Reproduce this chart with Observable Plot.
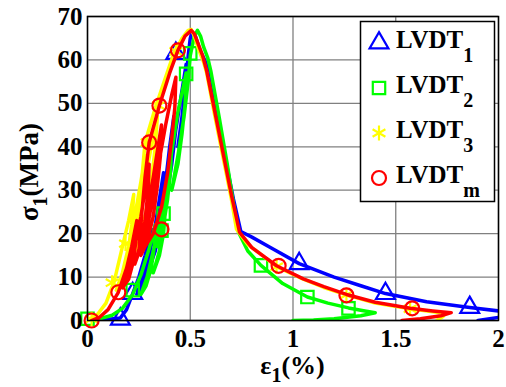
<!DOCTYPE html>
<html><head><meta charset="utf-8">
<script src="https://cdn.jsdelivr.net/npm/d3@7"></script>
<script src="https://cdn.jsdelivr.net/npm/@observablehq/plot@0.6"></script>
<style>body{margin:0;background:#fff}#chart{width:506px;height:387px}</style>
</head><body><div id="chart"></div>
<script>
const seriesBase = "LVDT";
const seriesSubs = ["1", "2", "3", "m"];
const seriesColors = ["#0000ff", "#00ff00", "#ffff00", "#ff0000"];
const seriesSymbols = ["triangle", "square", "asterisk", "circle"];
const xTicks = [0, 0.5, 1, 1.5, 2];
const xTickLabels = ["0", "0.5", "1", "1.5", "2"];
const yTicks = [0, 10, 20, 30, 40, 50, 60, 70];
const yTickLabels = ["0", "10", "20", "30", "40", "50", "60", "70"];
const xLabelMain = "ε", xLabelSub = "1", xLabelUnit = "(%)";
const yLabelMain = "σ", yLabelSub = "1", yLabelUnit = "(MPa)";

// strain (%), stress (MPa)
const curveLVDT1 = [[0,0],[0.08,0.2],[0.16,0.6],[0.19,2.5],[0.22,6.2],[0.25,10],[0.28,15],[0.31,21],
  [0.305,16],[0.29,11],[0.27,8],[0.24,6],
  [0.27,10],[0.3,15],[0.33,22],[0.35,28],[0.37,34],
  [0.365,28],[0.35,22],[0.33,16],[0.3,12],
  [0.33,17],[0.36,25],[0.38,32],[0.4,40],[0.42,47],
  [0.415,40],[0.4,33],[0.38,26],[0.35,20],
  [0.38,27],[0.41,36],[0.43,44],[0.46,53],[0.48,59],
  [0.475,53],[0.46,46],[0.44,40],
  [0.46,47],[0.48,55],[0.49,61],[0.5,65],[0.51,66.5],[0.525,65.5],[0.545,62.5],[0.57,60],[0.59,57.5],
  [0.63,47],[0.67,37.5],[0.71,28],[0.746,20.5],[0.8,19.2],[0.89,16.8],[1.03,13.1],[1.2,10],[1.33,8],
  [1.45,6.2],[1.65,4.3],[1.86,3],[2.0,2.2],[2.1,1.8],[2.08,1.2],[2.0,0.7],[1.9,0]];
const curveLVDT2 = [[0,0],[0.06,0.4],[0.12,1.2],[0.17,2.8],[0.22,6],[0.26,10.5],[0.3,16.5],[0.33,22],
  [0.325,17],[0.31,12],[0.285,8],[0.26,6],
  [0.29,10],[0.32,16],[0.35,22],[0.37,27],[0.385,32],
  [0.38,26],[0.37,20],[0.35,15],[0.32,11],
  [0.35,16],[0.37,22],[0.39,29],[0.4,35],[0.41,42],
  [0.405,35],[0.39,28],[0.37,22],[0.34,17],
  [0.37,23],[0.39,31],[0.41,39],[0.44,48],[0.48,57],
  [0.475,50],[0.46,43],[0.44,36],[0.41,30],
  [0.44,38],[0.47,47],[0.49,55],[0.5,61],[0.52,65.5],[0.535,66.8],[0.55,65.5],[0.565,63],[0.585,60.5],
  [0.6,57.5],[0.64,47],[0.68,36],[0.71,27],[0.735,20.3],[0.78,16],[0.844,12.7],[0.95,8.5],[1.07,5.4],
  [1.17,4],[1.27,2.9],[1.35,2.2],[1.4,1.8],[1.33,1.1],[1.2,0.4],[1.1,0.1],[1.0,0]];
const curveLVDT3 = [[0,0],[0.05,1.5],[0.09,4],[0.13,9],[0.17,17],[0.2,23],[0.225,29],
  [0.215,22],[0.195,15],[0.17,10],[0.14,7],
  [0.17,11],[0.2,17],[0.23,24],[0.26,32],[0.28,38],
  [0.27,31],[0.25,24],[0.22,17],[0.19,12],
  [0.22,17],[0.25,24],[0.28,32],[0.31,40],[0.34,47],
  [0.33,40],[0.31,32],[0.28,24],[0.24,17],[0.21,14],
  [0.22,17],[0.245,25],[0.265,33],[0.28,41],[0.33,49],[0.38,56],[0.42,61.5],[0.46,65],[0.49,66.8],
  [0.505,67],[0.52,65.5],[0.54,62.5],[0.565,59.5],[0.58,57],[0.62,47],[0.66,37.5],[0.7,28],[0.725,21],
  [0.78,17.5],[0.85,15],[0.92,12.4],[1.05,9.5],[1.15,7.6],[1.26,5.9],[1.4,4],[1.57,2.7],[1.68,2.0],
  [1.74,1.6],[1.73,0.9],[1.7,0]];
const curveLVDTm = [[0.02,0],[0.06,0.8],[0.1,2.5],[0.15,6.5],[0.19,12],[0.215,17],[0.24,23],
  [0.235,18],[0.22,13],[0.2,9.5],[0.17,7.5],
  [0.2,11],[0.23,17],[0.26,24],[0.28,30],[0.3,36],
  [0.295,30],[0.28,23],[0.26,17],[0.23,13],
  [0.26,18],[0.29,25],[0.32,33],[0.34,39],[0.36,45],
  [0.355,38],[0.34,31],[0.32,24],[0.29,18],[0.26,15],
  [0.29,21],[0.32,29],[0.35,37],[0.38,45],[0.41,52],[0.43,56],
  [0.425,49],[0.41,42],[0.39,34],[0.36,26],[0.32,20],[0.28,17],[0.25,16],
  [0.265,25],[0.28,33],[0.3,41],[0.35,49.5],[0.4,57],[0.44,62.2],[0.475,65.5],[0.505,66.8],[0.52,66],
  [0.54,63.5],[0.56,61],[0.58,57.5],[0.62,48],[0.66,38.5],[0.7,29],[0.74,20.3],[0.8,16.8],[0.92,12.6],
  [1.05,9.6],[1.15,7.8],[1.26,6],[1.4,4.2],[1.57,2.8],[1.68,2.2],[1.77,1.8],[1.72,1.1],[1.62,0.4],[1.53,0]];

const markersLVDT1 = [[0.16,0.3],[0.22,6.2],[0.43,61.5],[1.03,13.1],[1.45,6.2],[1.86,3.0]];
const markersLVDT2 = [[0,0.4],[0.22,7],[0.36,20.7],[0.37,24.6],[0.48,56.8],[0.5,61.5],[0.844,12.7],[1.07,5.4],[1.27,2.8]];
const markersLVDT3 = [[0.02,0.3],[0.12,8.7],[0.185,17.7],[0.29,41],[0.345,49.5],[0.43,62],[0.92,12.4],[1.26,5.9],[1.57,2.7]];
const markersLVDTm = [[0.02,0],[0.15,6.5],[0.36,21],[0.3,41],[0.35,49.5],[0.44,62.2],[0.93,12.6],[1.26,5.8],[1.58,2.8]];

const curves = [curveLVDT1, curveLVDT2, curveLVDT3, curveLVDTm];
const markers = [markersLVDT1, markersLVDT2, markersLVDT3, markersLVDTm];

const FONT = "Liberation Serif, DejaVu Serif, serif";
const W = 506, H = 387, ML = 87, MR = 8, MT = 16, MB = 67;

const marks = [
  Plot.gridX(xTicks, {stroke: "#808080", strokeOpacity: 1, strokeWidth: 1.3}),
  Plot.gridY(yTicks, {stroke: "#808080", strokeOpacity: 1, strokeWidth: 1.3}),
];
curves.forEach((c, i) => {
  marks.push(Plot.line(c, {x: d => d[0], y: d => d[1], stroke: seriesColors[i], strokeWidth: 3.5, clip: true}));
  marks.push(Plot.dot(markers[i], {x: d => d[0], y: d => d[1], symbol: seriesSymbols[i], r: 7,
    stroke: seriesColors[i], strokeWidth: 2.2, fill: "none"}));
});
marks.push(
  Plot.frame({stroke: "black", strokeWidth: 1.5}),
  Plot.axisX(xTicks, {tickSize: 0, tickPadding: 9, fontSize: 25, fontWeight: "bold", fontFamily: FONT,
    tickFormat: d => xTickLabels[xTicks.indexOf(d)], label: null}),
  Plot.axisY(yTicks, {tickSize: 0, tickPadding: 5, fontSize: 25, fontWeight: "bold", fontFamily: FONT,
    tickFormat: d => yTickLabels[yTicks.indexOf(d)], label: null})
);

const svg = Plot.plot({
  width: W, height: H,
  marginLeft: ML, marginRight: MR, marginTop: MT, marginBottom: MB,
  x: {domain: [0, 2]},
  y: {domain: [0, 70]},
  style: {fontFamily: FONT, fontWeight: "bold", background: "white", color: "black", overflow: "visible"},
  marks
});
document.getElementById("chart").appendChild(svg);

const s = d3.select(svg);
// x label
const xl = s.append("text").attr("x", (ML + W - MR) / 2).attr("y", 374)
  .attr("text-anchor", "middle").attr("font-family", FONT).attr("font-weight", "bold")
  .attr("font-size", 26).attr("fill", "black");
xl.append("tspan").text(xLabelMain);
xl.append("tspan").attr("dy", 8).attr("font-size", 20).text(xLabelSub);
xl.append("tspan").attr("dy", -8).text(xLabelUnit);
// y label
const yl = s.append("text").attr("transform", `translate(38,${(MT + H - MB) / 2 + 4}) rotate(-90)`)
  .attr("text-anchor", "middle").attr("font-family", FONT).attr("font-weight", "bold")
  .attr("font-size", 27).attr("fill", "black");
yl.append("tspan").text(yLabelMain);
yl.append("tspan").attr("dy", 9).attr("font-size", 20).text(yLabelSub);
yl.append("tspan").attr("dy", -9).text(yLabelUnit);

// legend
const lg = s.append("g");
lg.append("rect").attr("x", 360.5).attr("y", 21.5).attr("width", 134).attr("height", 180)
  .attr("fill", "white").attr("stroke", "black").attr("stroke-width", 1.5);
const symMap = {triangle: d3.symbolTriangle, square: d3.symbolSquare, asterisk: d3.symbolAsterisk, circle: d3.symbolCircle};
seriesSubs.forEach((sub, i) => {
  const cy = 43 + 45 * i;
  lg.append("path").attr("transform", `translate(379,${cy})`)
    .attr("d", d3.symbol(symMap[seriesSymbols[i]], Math.PI * 49)())
    .attr("fill", "none").attr("stroke", seriesColors[i]).attr("stroke-width", 2.2);
  const t = lg.append("text").attr("x", 396).attr("y", cy + 5).attr("text-anchor", "start")
    .attr("font-family", FONT).attr("font-weight", "bold").attr("font-size", 25).attr("fill", "black");
  t.append("tspan").text(seriesBase);
  t.append("tspan").attr("dy", 14).attr("font-size", 20).text(sub);
});
</script></body></html>
